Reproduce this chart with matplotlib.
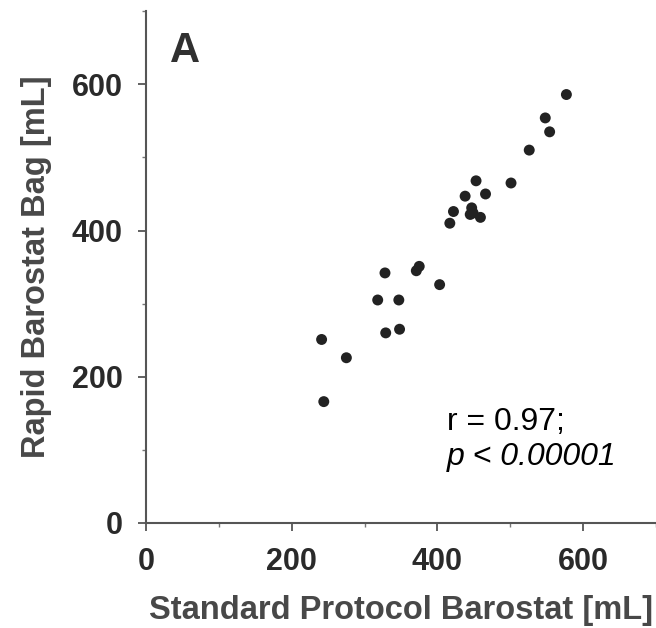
import matplotlib.pyplot as plt
from matplotlib.ticker import MultipleLocator

plt.rcParams['font.family'] = ['Liberation Sans', 'DejaVu Sans']

# standard protocol vs rapid barostat bag volumes (mL)
standard = [577, 548, 554, 526, 501, 453, 438, 466, 422, 417, 447, 445, 449, 459,
            375, 371, 328, 403, 318, 347, 329, 348, 241, 275, 244]
rapid = [586, 554, 535, 510, 465, 468, 447, 450, 426, 410, 431, 422, 424, 418,
         351, 345, 342, 326, 305, 305, 260, 265, 251, 226, 166]

fig = plt.figure(figsize=(6.56, 6.28), dpi=100)
ax = fig.add_axes([0.2226, 0.1672, 0.7774, 0.815])

ax.scatter(standard, rapid, s=62, color='#222222', edgecolors='none', zorder=3)

ax.set_xlim(0, 700)
ax.set_ylim(0, 700)
ax.xaxis.set_major_locator(MultipleLocator(200))
ax.yaxis.set_major_locator(MultipleLocator(200))
ax.xaxis.set_minor_locator(MultipleLocator(100))
ax.yaxis.set_minor_locator(MultipleLocator(100))

for s in ['top', 'right']:
    ax.spines[s].set_visible(False)
for s in ['left', 'bottom']:
    ax.spines[s].set_color('#555555')
    ax.spines[s].set_linewidth(1.5)

ax.tick_params(which='major', length=6, width=1.3, color='#555555',
               labelsize=22, labelcolor='#2a2a2a', pad=11)
ax.tick_params(which='minor', length=3, width=1.0, color='#777777')
for lab in ax.get_xticklabels() + ax.get_yticklabels():
    lab.set_fontweight('bold')

ax.set_xlabel('Standard Protocol Barostat [mL]', fontsize=23.5, fontweight='bold',
              color='#484848', labelpad=13)
ax.set_ylabel('Rapid Barostat Bag [mL]', fontsize=23.5, fontweight='bold',
              color='#484848', labelpad=14)

ax.text(0.047, 0.900, 'A', transform=ax.transAxes, fontsize=30, fontweight='bold',
        color='#303030', va='baseline', ha='left')
ax.text(0.590, 0.182, 'r = 0.97;', transform=ax.transAxes, fontsize=23,
        color='black', ha='left', va='baseline')
ax.text(0.590, 0.1135, 'p < 0.00001', transform=ax.transAxes, fontsize=23,
        color='black', ha='left', va='baseline', style='italic')

fig.savefig('out.png', dpi=100)
